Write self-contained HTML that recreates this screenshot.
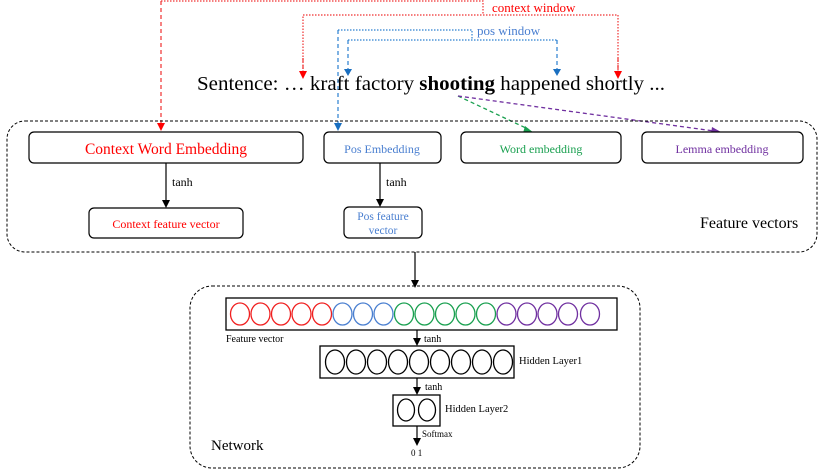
<!DOCTYPE html>
<html><head><meta charset="utf-8"><style>
html,body{margin:0;padding:0;background:#fff}
svg{display:block}
text{font-family:"Liberation Serif",serif}
</style></head><body>
<svg width="830" height="474" viewBox="0 0 830 474" xmlns="http://www.w3.org/2000/svg">
<!-- context window -->
<g stroke="#f03030" fill="none" stroke-width="1.2">
<polyline points="161,1 483,1 483,14" stroke-dasharray="1.5,1.5"/>
<polyline points="303,75 303,15 618,15 618,75" stroke-dasharray="1.5,1.5"/>
<line x1="161" y1="1" x2="161" y2="124" stroke-dasharray="4,3"/>
<line x1="303" y1="58" x2="303" y2="70" stroke-dasharray="4,3"/>
<line x1="618" y1="58" x2="618" y2="70" stroke-dasharray="4,3"/>
</g>
<g fill="#f00"><path d="M157,123h8l-4,8z"/><path d="M299,71h8l-4,8z"/><path d="M614,71h8l-4,8z"/></g>
<text x="492" y="12" font-size="13" fill="#f00">context window</text>
<!-- pos window -->
<g stroke="#2a7fd0" fill="none" stroke-width="1.2">
<polyline points="338,30 472,30 472,40" stroke-dasharray="1.5,1.5"/>
<polyline points="348,40 557,40" stroke-dasharray="1.5,1.5"/>
<line x1="338" y1="30" x2="338" y2="124" stroke-dasharray="4,3"/>
<line x1="348" y1="40" x2="348" y2="70" stroke-dasharray="4,3"/>
<line x1="557" y1="40" x2="557" y2="70" stroke-dasharray="4,3"/>
</g>
<g fill="#1a6fc0"><path d="M334,123h8l-4,8z"/><path d="M344,69h8l-4,7z"/><path d="M553,69h8l-4,7z"/></g>
<text x="477" y="35" font-size="13" fill="#4a7fd0">pos window</text>
<!-- sentence -->
<text x="197" y="90" font-size="20" fill="#000" textLength="468" lengthAdjust="spacingAndGlyphs">Sentence: … kraft factory <tspan font-weight="bold">shooting</tspan> happened shortly ...</text>
<line x1="458" y1="96" x2="528" y2="129" stroke="#1aa050" stroke-width="1.3" stroke-dasharray="4,3"/>
<path d="M525,126 L534,133 L523,133z" fill="#1aa050"/>
<line x1="458" y1="96" x2="714" y2="131" stroke="#7030a0" stroke-width="1.3" stroke-dasharray="4,3"/>
<path d="M712,127 L721,132 L711,134z" fill="#7030a0"/>
<!-- feature vectors box -->
<rect x="7" y="121" width="810" height="131" rx="18" fill="none" stroke="#000" stroke-dasharray="3,2"/>
<g fill="#fff" stroke="#000" stroke-width="1.2">
<rect x="29" y="132" width="274" height="31" rx="5"/>
<rect x="324" y="132" width="117" height="31" rx="5"/>
<rect x="461" y="132" width="160" height="31" rx="5"/>
<rect x="642" y="132" width="161" height="31" rx="5"/>
<rect x="89" y="208" width="154" height="30" rx="5"/>
<rect x="344" y="207" width="78" height="31" rx="5"/>
</g>
<text x="166" y="154" font-size="15.5" fill="#f00" text-anchor="middle">Context Word Embedding</text>
<text x="382" y="153" font-size="12" fill="#4a7fd0" text-anchor="middle">Pos Embedding</text>
<text x="541" y="153" font-size="12" fill="#1aa050" text-anchor="middle">Word embedding</text>
<text x="722" y="153" font-size="12" fill="#7030a0" text-anchor="middle">Lemma embedding</text>
<text x="166" y="228" font-size="12" fill="#f00" text-anchor="middle">Context feature vector</text>
<text x="383" y="220" font-size="11.5" fill="#4a7fd0" text-anchor="middle">Pos feature</text>
<text x="383" y="234" font-size="11.5" fill="#4a7fd0" text-anchor="middle">vector</text>
<g stroke="#000" stroke-width="1.2">
<line x1="166" y1="163" x2="166" y2="201"/><line x1="380" y1="163" x2="380" y2="200"/>
<line x1="415" y1="252" x2="415" y2="281"/>
<line x1="417" y1="330" x2="417" y2="340"/><line x1="417" y1="378" x2="417" y2="389"/><line x1="417" y1="426" x2="417" y2="440"/>
</g>
<g fill="#000"><path d="M162,200h8l-4,8z"/><path d="M376,199h8l-4,8z"/><path d="M411,280h8l-4,8z"/>
<path d="M413,338h8l-4,8z"/><path d="M413,387h8l-4,8z"/><path d="M413,438h8l-4,8z"/></g>
<text x="172" y="186" font-size="12">tanh</text>
<text x="386" y="186" font-size="12">tanh</text>
<text x="700" y="228" font-size="16">Feature vectors</text>
<!-- network -->
<rect x="190" y="286" width="450" height="182" rx="22" fill="none" stroke="#000" stroke-dasharray="3,2"/>
<rect x="226" y="298" width="391" height="32" fill="none" stroke="#000" stroke-width="1.3"/>
<g fill="none" stroke-width="1.3">
<g stroke="#f02020"><ellipse cx="240" cy="314" rx="9.5" ry="11"/><ellipse cx="260.5" cy="314" rx="9.5" ry="11"/><ellipse cx="281" cy="314" rx="9.5" ry="11"/><ellipse cx="301.5" cy="314" rx="9.5" ry="11"/><ellipse cx="322" cy="314" rx="9.5" ry="11"/></g>
<g stroke="#4a7fd0"><ellipse cx="342.5" cy="314" rx="9.5" ry="11"/><ellipse cx="363" cy="314" rx="9.5" ry="11"/><ellipse cx="383.5" cy="314" rx="9.5" ry="11"/></g>
<g stroke="#1aa050"><ellipse cx="404" cy="314" rx="9.5" ry="11"/><ellipse cx="424.5" cy="314" rx="9.5" ry="11"/><ellipse cx="445" cy="314" rx="9.5" ry="11"/><ellipse cx="465.5" cy="314" rx="9.5" ry="11"/><ellipse cx="486" cy="314" rx="9.5" ry="11"/></g>
<g stroke="#7030a0"><ellipse cx="506.5" cy="314" rx="9.5" ry="11"/><ellipse cx="527" cy="314" rx="9.5" ry="11"/><ellipse cx="547.5" cy="314" rx="9.5" ry="11"/><ellipse cx="568" cy="314" rx="9.5" ry="11"/><ellipse cx="590" cy="314" rx="9.5" ry="11"/></g>
</g>
<text x="226" y="342" font-size="10">Feature vector</text>
<text x="424" y="342" font-size="10">tanh</text>
<rect x="320" y="346" width="194" height="32" fill="none" stroke="#000" stroke-width="1.3"/>
<g fill="none" stroke="#000" stroke-width="1.3">
<ellipse cx="335" cy="362" rx="9.5" ry="12"/><ellipse cx="356" cy="362" rx="9.5" ry="12"/><ellipse cx="377" cy="362" rx="9.5" ry="12"/><ellipse cx="398" cy="362" rx="9.5" ry="12"/><ellipse cx="419" cy="362" rx="9.5" ry="12"/><ellipse cx="440" cy="362" rx="9.5" ry="12"/><ellipse cx="461" cy="362" rx="9.5" ry="12"/><ellipse cx="482" cy="362" rx="9.5" ry="12"/><ellipse cx="503" cy="362" rx="9.5" ry="12"/>
</g>
<text x="519" y="364" font-size="10.5">Hidden Layer1</text>
<text x="425" y="390" font-size="10">tanh</text>
<rect x="393" y="395" width="47" height="31" fill="none" stroke="#000" stroke-width="1.3"/>
<ellipse cx="406" cy="410" rx="8.5" ry="11" fill="none" stroke="#000" stroke-width="1.3"/>
<ellipse cx="427" cy="410" rx="8.5" ry="11" fill="none" stroke="#000" stroke-width="1.3"/>
<text x="445" y="412" font-size="10.5">Hidden Layer2</text>
<text x="422" y="437" font-size="9">Softmax</text>
<text x="411" y="456" font-size="9">0  1</text>
<text x="211" y="450" font-size="15">Network</text>
</svg>
</body></html>
